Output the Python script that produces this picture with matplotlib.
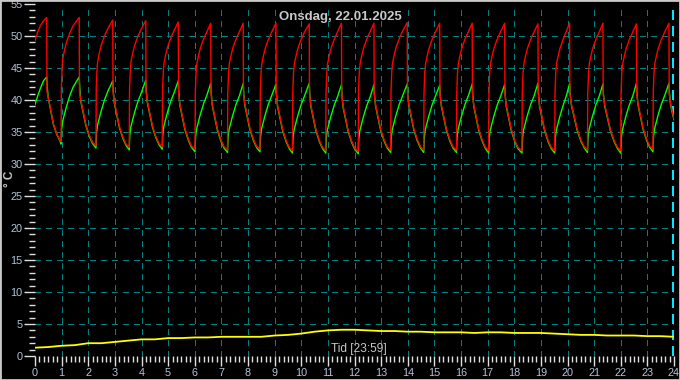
import numpy as np
import matplotlib
matplotlib.use("Agg")
import matplotlib.pyplot as plt
from matplotlib.ticker import MultipleLocator
from matplotlib.patches import Rectangle

plt.rcParams['font.family'] = ['Liberation Sans', 'DejaVu Sans']

# Tidsakse i timer, en raekke pr. cyklus (stigning + afkoeling)
red_t = [
    [0.00, 0.10, 0.20, 0.32, 0.44, 0.45, 0.50, 0.57, 0.69, 0.82, 0.94],
    [0.98, 0.99, 1.02, 1.05, 1.11, 1.18, 1.30, 1.43, 1.66, 1.67, 1.72, 1.79, 1.91, 2.04, 2.16],
    [2.29, 2.30, 2.33, 2.36, 2.42, 2.49, 2.61, 2.74, 2.92, 2.93, 2.98, 3.05, 3.17, 3.30, 3.42],
    [3.54, 3.55, 3.58, 3.61, 3.67, 3.74, 3.86, 3.99, 4.16, 4.17, 4.22, 4.29, 4.41, 4.54, 4.66],
    [4.78, 4.79, 4.82, 4.85, 4.91, 4.98, 5.10, 5.23, 5.38, 5.39, 5.44, 5.51, 5.63, 5.76, 5.88],
    [6.01, 6.02, 6.05, 6.08, 6.14, 6.21, 6.33, 6.46, 6.60, 6.61, 6.66, 6.73, 6.85, 6.98, 7.10],
    [7.23, 7.24, 7.27, 7.30, 7.36, 7.43, 7.55, 7.68, 7.82, 7.83, 7.88, 7.95, 8.07, 8.20, 8.32],
    [8.45, 8.46, 8.49, 8.52, 8.58, 8.65, 8.77, 8.90, 9.05, 9.06, 9.11, 9.18, 9.30, 9.43, 9.55],
    [9.67, 9.68, 9.71, 9.74, 9.80, 9.87, 9.99, 10.12, 10.30, 10.31, 10.36, 10.43, 10.55, 10.68, 10.80],
    [10.92, 10.93, 10.96, 10.99, 11.05, 11.12, 11.24, 11.37, 11.51, 11.52, 11.57, 11.64, 11.76, 11.89, 12.01],
    [12.14, 12.15, 12.18, 12.21, 12.27, 12.34, 12.46, 12.59, 12.73, 12.74, 12.79, 12.86, 12.98, 13.11, 13.23],
    [13.36, 13.37, 13.40, 13.43, 13.49, 13.56, 13.68, 13.81, 13.98, 13.99, 14.04, 14.11, 14.23, 14.36, 14.48],
    [14.60, 14.61, 14.64, 14.67, 14.73, 14.80, 14.92, 15.05, 15.20, 15.21, 15.26, 15.33, 15.45, 15.58, 15.70],
    [15.83, 15.84, 15.87, 15.90, 15.96, 16.03, 16.15, 16.28, 16.42, 16.43, 16.48, 16.55, 16.67, 16.80, 16.92],
    [17.04, 17.05, 17.08, 17.11, 17.17, 17.24, 17.36, 17.49, 17.64, 17.65, 17.70, 17.77, 17.89, 18.02, 18.14],
    [18.29, 18.30, 18.33, 18.36, 18.42, 18.49, 18.61, 18.74, 18.89, 18.90, 18.95, 19.02, 19.14, 19.27, 19.39],
    [19.52, 19.53, 19.56, 19.59, 19.65, 19.72, 19.84, 19.96, 20.08, 20.09, 20.15, 20.23, 20.36, 20.50, 20.63],
    [20.75, 20.76, 20.79, 20.82, 20.88, 20.95, 21.07, 21.20, 21.33, 21.34, 21.40, 21.48, 21.61, 21.75, 21.88],
    [22.00, 22.01, 22.04, 22.07, 22.13, 22.20, 22.32, 22.45, 22.59, 22.60, 22.65, 22.72, 22.84, 22.97, 23.09],
    [23.21, 23.22, 23.25, 23.28, 23.34, 23.41, 23.53, 23.66, 23.81, 23.82, 23.87, 23.94, 24.00],
]
red_v = [
    [49.3, 50.6, 51.6, 52.4, 52.9, 41.3, 40.4, 38.9, 36.3, 34.7, 33.7],
    [33.5, 41.9, 45.3, 46.6, 47.8, 49.0, 50.4, 51.6, 52.9, 41.3, 40.0, 38.6, 36.2, 34.5, 33.4],
    [32.9, 41.5, 44.9, 46.2, 47.4, 48.6, 50.0, 51.2, 52.5, 41.3, 39.7, 38.3, 35.9, 34.2, 33.1],
    [32.6, 41.4, 44.8, 46.1, 47.3, 48.5, 49.9, 51.1, 52.4, 41.3, 39.8, 38.4, 36.0, 34.3, 33.2],
    [32.7, 41.2, 44.6, 45.9, 47.1, 48.3, 49.7, 50.9, 52.2, 41.3, 39.4, 38.0, 35.6, 33.9, 32.8],
    [32.3, 41.0, 44.4, 45.7, 46.9, 48.1, 49.5, 50.7, 52.0, 41.0, 39.3, 37.9, 35.5, 33.8, 32.7],
    [32.2, 41.0, 44.4, 45.7, 46.9, 48.1, 49.5, 50.7, 52.0, 41.0, 39.4, 38.0, 35.6, 33.9, 32.8],
    [32.3, 41.0, 44.4, 45.7, 46.9, 48.1, 49.5, 50.7, 52.0, 41.0, 39.2, 37.8, 35.4, 33.7, 32.6],
    [32.1, 40.9, 44.3, 45.6, 46.8, 48.0, 49.4, 50.6, 51.9, 41.0, 39.2, 37.8, 35.4, 33.7, 32.6],
    [32.1, 41.0, 44.4, 45.7, 46.9, 48.1, 49.5, 50.7, 52.0, 41.0, 39.1, 37.7, 35.3, 33.6, 32.5],
    [32.0, 41.0, 44.4, 45.7, 46.9, 48.1, 49.5, 50.7, 52.0, 41.0, 39.3, 37.9, 35.5, 33.8, 32.7],
    [32.2, 41.1, 44.5, 45.8, 47.0, 48.2, 49.6, 50.8, 52.1, 41.0, 39.3, 37.9, 35.5, 33.8, 32.7],
    [32.2, 41.0, 44.4, 45.7, 46.9, 48.1, 49.5, 50.7, 52.0, 41.0, 39.3, 37.9, 35.5, 33.8, 32.7],
    [32.2, 41.0, 44.4, 45.7, 46.9, 48.1, 49.5, 50.7, 52.0, 41.0, 39.2, 37.8, 35.4, 33.7, 32.6],
    [32.1, 41.0, 44.4, 45.7, 46.9, 48.1, 49.5, 50.7, 52.0, 41.0, 39.2, 37.8, 35.4, 33.7, 32.6],
    [32.1, 40.9, 44.3, 45.6, 46.8, 48.0, 49.4, 50.6, 51.9, 41.0, 39.2, 37.8, 35.4, 33.7, 32.6],
    [32.1, 41.0, 44.4, 45.7, 46.9, 48.1, 49.5, 50.8, 52.0, 41.0, 39.3, 37.9, 35.5, 33.8, 32.7],
    [32.2, 41.0, 44.4, 45.7, 46.9, 48.1, 49.5, 50.7, 52.0, 41.0, 39.2, 37.8, 35.4, 33.7, 32.6],
    [32.1, 40.9, 44.3, 45.6, 46.8, 48.0, 49.4, 50.6, 51.9, 41.0, 39.4, 38.0, 35.6, 33.9, 32.8],
    [32.3, 41.0, 44.4, 45.7, 46.9, 48.1, 49.5, 50.7, 52.0, 41.0, 39.5, 38.1, 37.1],
]

green_t = [
    [0.00, 0.10, 0.20, 0.32, 0.44, 0.46, 0.50, 0.57, 0.69, 0.82, 0.94],
    [0.98, 1.00, 1.04, 1.17, 1.30, 1.43, 1.66, 1.68, 1.72, 1.79, 1.91, 2.04, 2.16],
    [2.29, 2.31, 2.35, 2.48, 2.61, 2.74, 2.92, 2.94, 2.98, 3.05, 3.17, 3.30, 3.42],
    [3.54, 3.56, 3.60, 3.73, 3.86, 3.99, 4.16, 4.18, 4.22, 4.29, 4.41, 4.54, 4.66],
    [4.78, 4.80, 4.84, 4.97, 5.10, 5.23, 5.38, 5.40, 5.44, 5.51, 5.63, 5.76, 5.88],
    [6.01, 6.03, 6.07, 6.20, 6.33, 6.46, 6.60, 6.62, 6.66, 6.73, 6.85, 6.98, 7.10],
    [7.23, 7.25, 7.29, 7.42, 7.55, 7.68, 7.82, 7.84, 7.88, 7.95, 8.07, 8.20, 8.32],
    [8.45, 8.47, 8.51, 8.64, 8.77, 8.90, 9.05, 9.07, 9.11, 9.18, 9.30, 9.43, 9.55],
    [9.67, 9.69, 9.73, 9.86, 9.99, 10.12, 10.30, 10.32, 10.36, 10.43, 10.55, 10.68, 10.80],
    [10.92, 10.94, 10.98, 11.11, 11.24, 11.37, 11.51, 11.53, 11.57, 11.64, 11.76, 11.89, 12.01],
    [12.14, 12.16, 12.20, 12.33, 12.46, 12.59, 12.73, 12.75, 12.79, 12.86, 12.98, 13.11, 13.23],
    [13.36, 13.38, 13.42, 13.55, 13.68, 13.81, 13.98, 14.00, 14.04, 14.11, 14.23, 14.36, 14.48],
    [14.60, 14.62, 14.66, 14.79, 14.92, 15.05, 15.20, 15.22, 15.26, 15.33, 15.45, 15.58, 15.70],
    [15.83, 15.85, 15.89, 16.02, 16.15, 16.28, 16.42, 16.44, 16.48, 16.55, 16.67, 16.80, 16.92],
    [17.04, 17.06, 17.10, 17.23, 17.36, 17.49, 17.64, 17.66, 17.70, 17.77, 17.89, 18.02, 18.14],
    [18.29, 18.31, 18.35, 18.48, 18.61, 18.74, 18.89, 18.91, 18.95, 19.02, 19.14, 19.27, 19.39],
    [19.52, 19.54, 19.58, 19.71, 19.84, 19.96, 20.08, 20.10, 20.15, 20.23, 20.36, 20.50, 20.63],
    [20.75, 20.77, 20.81, 20.94, 21.07, 21.20, 21.33, 21.35, 21.40, 21.48, 21.61, 21.75, 21.88],
    [22.00, 22.02, 22.06, 22.19, 22.32, 22.45, 22.59, 22.61, 22.65, 22.72, 22.84, 22.97, 23.09],
    [23.21, 23.23, 23.27, 23.40, 23.53, 23.66, 23.81, 23.83, 23.87, 23.94, 24.00],
]
green_v = [
    [39.3, 40.6, 41.8, 43.0, 43.6, 42.0, 40.3, 38.8, 36.2, 34.6, 33.6],
    [33.1, 35.4, 36.7, 38.8, 40.6, 42.0, 43.6, 42.0, 39.8, 38.4, 36.0, 34.3, 33.2],
    [32.5, 34.8, 36.1, 38.2, 40.0, 41.4, 43.0, 41.4, 39.5, 38.1, 35.7, 34.0, 32.9],
    [32.2, 34.5, 35.8, 37.9, 39.7, 41.1, 43.1, 41.5, 39.6, 38.2, 35.8, 34.1, 33.0],
    [32.3, 34.6, 35.9, 38.0, 39.8, 41.2, 43.0, 41.4, 39.2, 37.8, 35.4, 33.7, 32.6],
    [31.9, 34.2, 35.5, 37.6, 39.4, 40.8, 42.6, 41.0, 39.1, 37.7, 35.3, 33.6, 32.5],
    [31.8, 34.1, 35.4, 37.5, 39.3, 40.7, 42.6, 41.0, 39.2, 37.8, 35.4, 33.7, 32.6],
    [31.9, 34.2, 35.5, 37.6, 39.4, 40.8, 42.5, 40.9, 39.0, 37.6, 35.2, 33.5, 32.4],
    [31.7, 34.0, 35.3, 37.4, 39.2, 40.6, 42.6, 41.0, 39.0, 37.6, 35.2, 33.5, 32.4],
    [31.7, 34.0, 35.3, 37.4, 39.2, 40.6, 42.4, 40.8, 38.9, 37.5, 35.1, 33.4, 32.3],
    [31.6, 33.9, 35.2, 37.3, 39.1, 40.5, 42.4, 40.8, 39.1, 37.7, 35.3, 33.6, 32.5],
    [31.8, 34.1, 35.4, 37.5, 39.3, 40.7, 42.5, 40.9, 39.1, 37.7, 35.3, 33.6, 32.5],
    [31.8, 34.1, 35.4, 37.5, 39.3, 40.7, 42.3, 40.7, 39.1, 37.7, 35.3, 33.6, 32.5],
    [31.8, 34.1, 35.4, 37.5, 39.3, 40.7, 42.5, 40.9, 39.0, 37.6, 35.2, 33.5, 32.4],
    [31.7, 34.0, 35.3, 37.4, 39.2, 40.6, 42.4, 40.8, 39.0, 37.6, 35.2, 33.5, 32.4],
    [31.7, 34.0, 35.3, 37.4, 39.2, 40.6, 42.6, 41.0, 39.0, 37.6, 35.2, 33.5, 32.4],
    [31.7, 34.0, 35.3, 37.4, 39.2, 40.7, 42.6, 41.0, 39.1, 37.7, 35.3, 33.6, 32.5],
    [31.8, 34.1, 35.4, 37.5, 39.3, 40.7, 42.5, 40.9, 39.0, 37.6, 35.2, 33.5, 32.4],
    [31.7, 34.0, 35.3, 37.4, 39.2, 40.6, 42.6, 41.0, 39.2, 37.8, 35.4, 33.7, 32.6],
    [31.9, 34.2, 35.5, 37.6, 39.4, 40.8, 42.6, 41.0, 39.3, 37.9, 36.9],
]

yellow_t = [0, 0.5, 1, 1.5, 2, 2.5, 3, 3.5, 4, 4.5, 5, 5.5, 6, 6.5, 7, 7.5, 8, 8.5,
            9, 9.5, 10, 10.5, 11, 11.5, 12, 12.5, 13, 13.5, 14, 14.5, 15, 15.5, 16,
            16.5, 17, 17.5, 18, 18.5, 19, 19.5, 20, 20.5, 21, 21.5, 22, 22.5, 23, 23.5, 24]
yellow_v = [1.3, 1.4, 1.6, 1.7, 2.0, 2.0, 2.2, 2.4, 2.6, 2.6, 2.8, 2.8, 2.9, 2.9, 3.0, 3.0, 3.0,
            3.0, 3.2, 3.3, 3.5, 3.8, 4.0, 4.1, 4.1, 4.0, 3.9, 3.9, 3.8, 3.8, 3.7, 3.7, 3.7,
            3.6, 3.7, 3.7, 3.6, 3.6, 3.6, 3.5, 3.4, 3.3, 3.3, 3.2, 3.2, 3.2, 3.1, 3.1, 3.0]

title = "Onsdag, 22.01.2025"
x_label = "Tid [23:59]"
y_label = "° C"

fig = plt.figure(figsize=(6.8, 3.8), dpi=100, facecolor='black')
ax = fig.add_axes([35 / 680, 24 / 380, 639 / 680, 352 / 380], facecolor='black')
ax.set_xlim(0, 24)
ax.set_ylim(0, 55)

# gitter
grid_c = '#008080'
for yy in range(5, 55, 5):
    ax.axhline(yy, color=grid_c, lw=0.8, ls=(0, (5, 5)), zorder=1, antialiased=False)
for xx in range(1, 24):
    ax.axvline(xx, color=grid_c, lw=0.8, ls=(0, (5, 5)), zorder=1, antialiased=False)
ax.axvline(23.97, color='#00e8ff', lw=1.2, ls=(0, (6, 4)), zorder=1, antialiased=False)

ax.plot(np.concatenate(green_t), np.concatenate(green_v), color='#00ff00', lw=1.0, zorder=3)
ax.plot(np.concatenate(red_t), np.concatenate(red_v), color='#ff0000', lw=1.0, zorder=4)
ax.plot(yellow_t, yellow_v, color='#ffff00', lw=1.3, zorder=3)

for s in ax.spines.values():
    s.set_visible(False)

lab_c = '#b4c4d6'
ax.xaxis.set_major_locator(MultipleLocator(1))
ax.xaxis.set_minor_locator(MultipleLocator(1 / 6))
ax.yaxis.set_major_locator(MultipleLocator(5))
ax.yaxis.set_minor_locator(MultipleLocator(1))
ax.tick_params(axis='x', which='major', length=7, width=1, color='#e0e0e0',
               labelcolor=lab_c, labelsize=7.8, pad=2)
ax.tick_params(axis='x', which='minor', length=4, width=1, color='#e0e0e0')
ax.tick_params(axis='y', which='major', length=8, width=1, color='#e0e0e0',
               labelcolor=lab_c, labelsize=7.8, pad=1)
ax.tick_params(axis='y', which='minor', length=4, width=1, color='#e0e0e0')

fig.text(0.5, 1 - 17 / 380, title, ha='center', va='center', color='#c8c8c8',
         fontsize=9.5, fontweight='bold')
ax.text(12.15, 1.1, x_label, ha='center', va='center', color='#c8c8c8', fontsize=8.6)
fig.text(10 / 680, 1 - 179 / 380, y_label, ha='center', va='center', rotation=90,
         color='#c8c8c8', fontsize=8.5, fontweight='bold')

fig.add_artist(Rectangle((0, 0), 1, 1, transform=fig.transFigure, fill=False,
                         edgecolor='#c8c8c8', lw=2))

fig.savefig('out.png', dpi=100, facecolor='black')
